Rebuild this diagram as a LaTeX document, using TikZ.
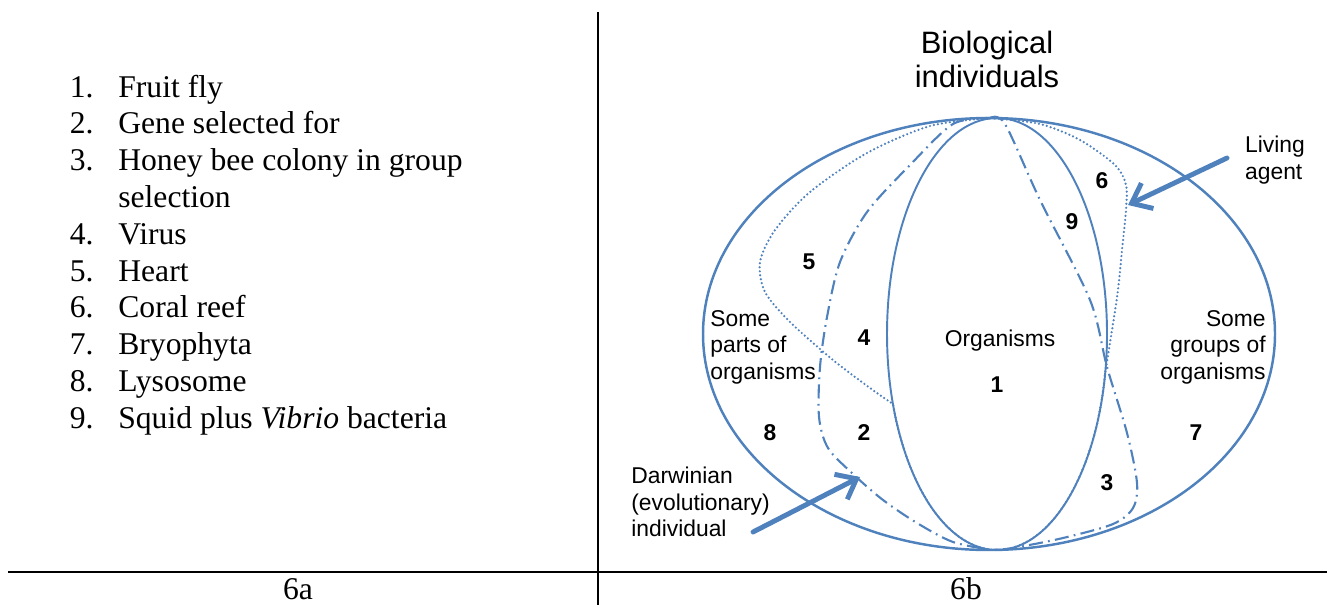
\documentclass[tikz,border=0pt]{standalone}
\usepackage{fontspec}
\setmainfont{Liberation Serif}
\setsansfont{Liberation Sans}
\usetikzlibrary{arrows.meta}
\definecolor{diagblue}{RGB}{79,129,189}
\tikzset{
  item/.style={anchor=base west, inner sep=0pt, font=\fontsize{18}{21}\selectfont},
  itemnum/.style={anchor=base east, inner sep=0pt, font=\fontsize{18}{21}\selectfont},
  lbl/.style={inner sep=0pt, font=\sffamily\fontsize{13}{15.1}\selectfont},
  regnum/.style={inner sep=0pt, font=\sffamily\bfseries\fontsize{13}{15}\selectfont},
  setline/.style={draw=diagblue, line width=1.1pt},
  darwinline/.style={draw=diagblue, line width=1.2pt, dash pattern=on 8pt off 3pt on 1pt off 3pt},
  livingline/.style={draw=diagblue, line width=1.4pt, line cap=round, dash pattern=on 0pt off 2.3pt},
  pointer/.style={-{Straight Barb[length=10pt,width=16pt]}, draw=diagblue, line width=2.8pt, line cap=round},
}
\begin{document}
\begin{tikzpicture}[x=0.02cm, y=-0.02cm]
\useasboundingbox (0,0) rectangle (1327,605);

% table rules
\draw[line width=1.2pt] (598,12) -- (598,605);
\draw[line width=1.3pt] (8,572) -- (1327,572);
\node (capa) at (298,589) {\fontsize{18}{21}\selectfont 6a};
\node (capb) at (966,589) {\fontsize{18}{21}\selectfont 6b};

% 6a: list of examples
\node[itemnum] (n1) at (94,97) {1.};
\node[item] (fly) at (118,97) {Fruit fly};
\node[itemnum] (n2) at (94,133.8) {2.};
\node[item] (gene) at (118,133.8) {Gene selected for};
\node[itemnum] (n3) at (94,170.6) {3.};
\node[item] (bee) at (118,170.6) {Honey bee colony in group};
\node[item] (beeb) at (118,207.4) {selection};
\node[itemnum] (n4) at (94,244.2) {4.};
\node[item] (virus) at (118,244.2) {Virus};
\node[itemnum] (n5) at (94,281) {5.};
\node[item] (heart) at (118,281) {Heart};
\node[itemnum] (n6) at (94,317.8) {6.};
\node[item] (coral) at (118,317.8) {Coral reef};
\node[itemnum] (n7) at (94,354.6) {7.};
\node[item] (bryo) at (118,354.6) {Bryophyta};
\node[itemnum] (n8) at (94,391.4) {8.};
\node[item] (lyso) at (118,391.4) {Lysosome};
\node[itemnum] (n9) at (94,428.2) {9.};
\node[item] (squid) at (118,428.2) {Squid plus \textit{Vibrio} bacteria};

% 6b: the sets
\draw[setline, line width=1.4pt] (989,334) ellipse [x radius=286, y radius=216];
\draw[setline] (997,334) ellipse [x radius=110, y radius=216];
\draw[darwinline] plot[smooth] coordinates {(990,118) (953,124) (910,165) (867,212) (840,262) (827,317) (820,367) (819,417) (828,448) (853,474) (883,500) (917,523) (953,542) (992,550)};
\draw[darwinline] plot[smooth] coordinates {(990,118) (1005,124) (1040,200) (1090,300) (1107,367) (1127,433) (1137,483) (1133,508) (1113,524) (1063,538) (1013,548) (992,550)};
\draw[livingline] plot[smooth] coordinates {(990,118) (930,126) (867,153) (810,192) (775,230) (760,262) (765,292) (790,322) (833,360) (870,388) (893,404)}
  -- plot[domain=161:9, samples=40, variable=\t] ({997+110*cos(\t)},{334+216*sin(\t)})
  -- plot[smooth] coordinates {(1106,368) (1112,330) (1118,290) (1122,250) (1126,210) (1126,185) (1115,165) (1080,140) (1040,124) (990,118)};

\node[lbl, align=center, font=\sffamily\fontsize{17.6}{19.3}\selectfont] (title) at (987,59) {Biological\\individuals};
\node[lbl, align=left] (lvagent) at (1275,160) {Living\\agent};
\node[lbl, align=left, anchor=west] (parts) at (710,347) {Some\\parts of\\organisms};
\node[lbl, align=right, anchor=east] (groups) at (1266,347) {Some\\groups of\\organisms};
\node[lbl] (orgs) at (1000,341) {Organisms};
\node[lbl, align=left, anchor=west] (darwin) at (631,502) {Darwinian\\(evolutionary)\\individual};

\node[regnum] (r1) at (997,385) {1};
\node[regnum] (r2) at (864,433) {2};
\node[regnum] (r3) at (1107,483) {3};
\node[regnum] (r4) at (864,338) {4};
\node[regnum] (r5) at (809,262) {5};
\node[regnum] (r6) at (1102,181) {6};
\node[regnum] (r7) at (1196,433) {7};
\node[regnum] (r8) at (770,433) {8};
\node[regnum] (r9) at (1072,222) {9};

\coordinate (lvtail) at (1227,158);
\coordinate (lvtip) at (1128,205);
\coordinate (dwtail) at (753,532);
\coordinate (dwtip) at (860,477);
\draw[pointer] (lvtail) -- (lvtip);
\draw[pointer] (dwtail) -- (dwtip);
\end{tikzpicture}
\end{document}
